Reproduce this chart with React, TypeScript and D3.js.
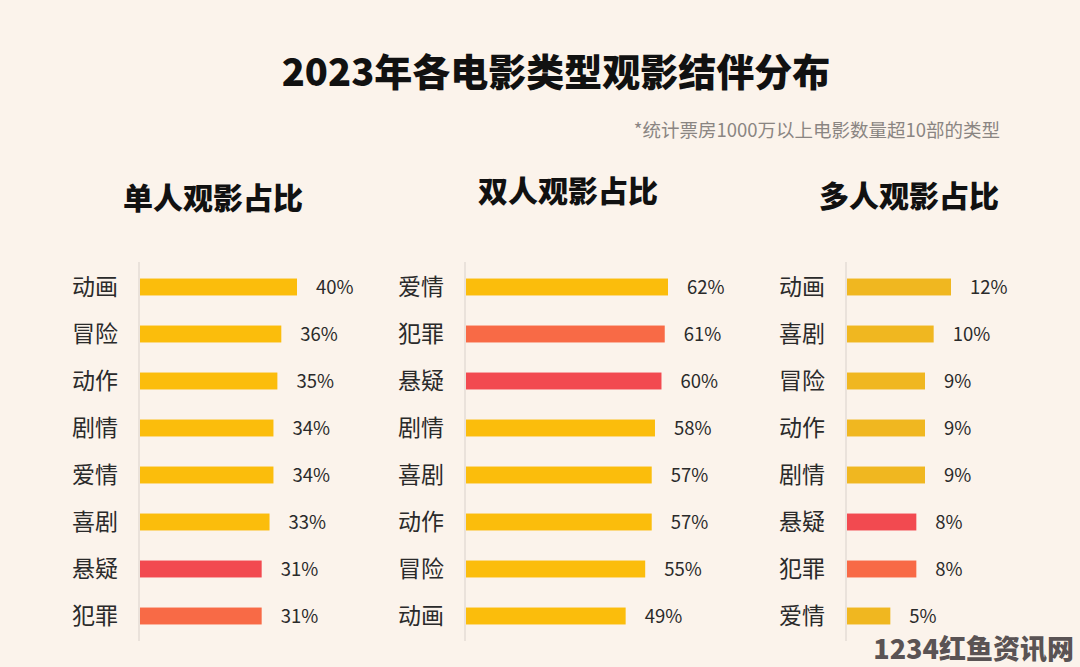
import React from "react";
import * as d3 from "d3";

const title = "2023年各电影类型观影结伴分布";
const subtitle = "*统计票房1000万以上电影数量超10部的类型";
const watermark = "1234红鱼资讯网";

const panelTitles = ["单人观影占比", "双人观影占比", "多人观影占比"];

const soloCats = ["动画", "冒险", "动作", "剧情", "爱情", "喜剧", "悬疑", "犯罪"];
const soloVals = [40, 36, 35, 34, 34, 33, 31, 31];

const duoCats = ["爱情", "犯罪", "悬疑", "剧情", "喜剧", "动作", "冒险", "动画"];
const duoVals = [62, 61, 60, 58, 57, 57, 55, 49];

const groupCats = ["动画", "喜剧", "冒险", "动作", "剧情", "悬疑", "犯罪", "爱情"];
const groupVals = [12, 10, 9, 9, 9, 8, 8, 5];

const W = 1080;
const H = 667;
const FONT = "'Noto Sans CJK SC', 'Noto Sans', sans-serif";

const colorFor = (cat: string, yellow: string) =>
  cat === "悬疑" ? "#f24a50" : cat === "犯罪" ? "#f86a46" : yellow;

type PanelProps = {
  cats: string[];
  vals: number[];
  axisX: number;
  maxWidth: number;
  head: string;
  headX: number;
  headY: number;
  yellow: string;
};

function Panel({ cats, vals, axisX, maxWidth, head, headX, headY, yellow }: PanelProps) {
  const x = d3.scaleLinear().domain([0, d3.max(vals) as number]).range([0, maxWidth]);
  const y = d3
    .scaleBand<number>()
    .domain(d3.range(cats.length))
    .range([263.5, 639.5])
    .paddingInner(0.64)
    .paddingOuter(0.32);
  const bh = y.bandwidth();
  return (
    <g>
      <text
        x={headX}
        y={headY}
        textAnchor="middle"
        fontFamily={FONT}
        fontWeight={900}
        fontSize={30}
        fill="#111"
      >
        {head}
      </text>
      <line x1={axisX} x2={axisX} y1={262} y2={641} stroke="#e4ddd6" strokeWidth={1.5} />
      {cats.map((c, i) => {
        const yc = (y(i) as number) + bh / 2;
        const w = x(vals[i]);
        return (
          <g key={c}>
            <text
              x={axisX - 21}
              y={yc}
              dy="0.35em"
              textAnchor="end"
              fontFamily={FONT}
              fontSize={23}
              fill="#2a2a2a"
            >
              {c}
            </text>
            <rect x={axisX + 1} y={y(i)} width={w} height={bh} fill={colorFor(c, yellow)} />
            <text
              x={axisX + 1 + w + 19}
              y={yc}
              dy="0.36em"
              fontFamily={FONT}
              fontSize={18.5}
              fill="#2a2a2a"
            >
              {vals[i]}%
            </text>
          </g>
        );
      })}
    </g>
  );
}

export default function App() {
  return (
    <svg
      width={W}
      height={H}
      style={{ position: "absolute", left: 0, top: 0, display: "block" }}
    >
      <rect width={W} height={H} fill="#fbf3eb" />
      <text
        x={556}
        y={86}
        textAnchor="middle"
        fontFamily={FONT}
        fontWeight={900}
        fontSize={38}
        fill="#111"
      >
        {title}
      </text>
      <text
        x={1000}
        y={137}
        textAnchor="end"
        fontFamily={FONT}
        fontSize={18.5}
        fill="#8a8582"
      >
        {subtitle}
      </text>
      <Panel
        cats={soloCats}
        vals={soloVals}
        axisX={139}
        maxWidth={157}
        head={panelTitles[0]}
        headX={213}
        headY={209}
        yellow="#fbbd0c"
      />
      <Panel
        cats={duoCats}
        vals={duoVals}
        axisX={465}
        maxWidth={202}
        head={panelTitles[1]}
        headX={568}
        headY={202}
        yellow="#fbbd0c"
      />
      <Panel
        cats={groupCats}
        vals={groupVals}
        axisX={846}
        maxWidth={104}
        head={panelTitles[2]}
        headX={909}
        headY={207}
        yellow="#f0b720"
      />
      <text
        x={1074}
        y={659}
        textAnchor="end"
        fontFamily={FONT}
        fontWeight={900}
        fontSize={27}
        fill="#5a5354"
        stroke="#fbf3eb"
        strokeWidth={1}
        paintOrder="stroke"
      >
        {watermark}
      </text>
    </svg>
  );
}
